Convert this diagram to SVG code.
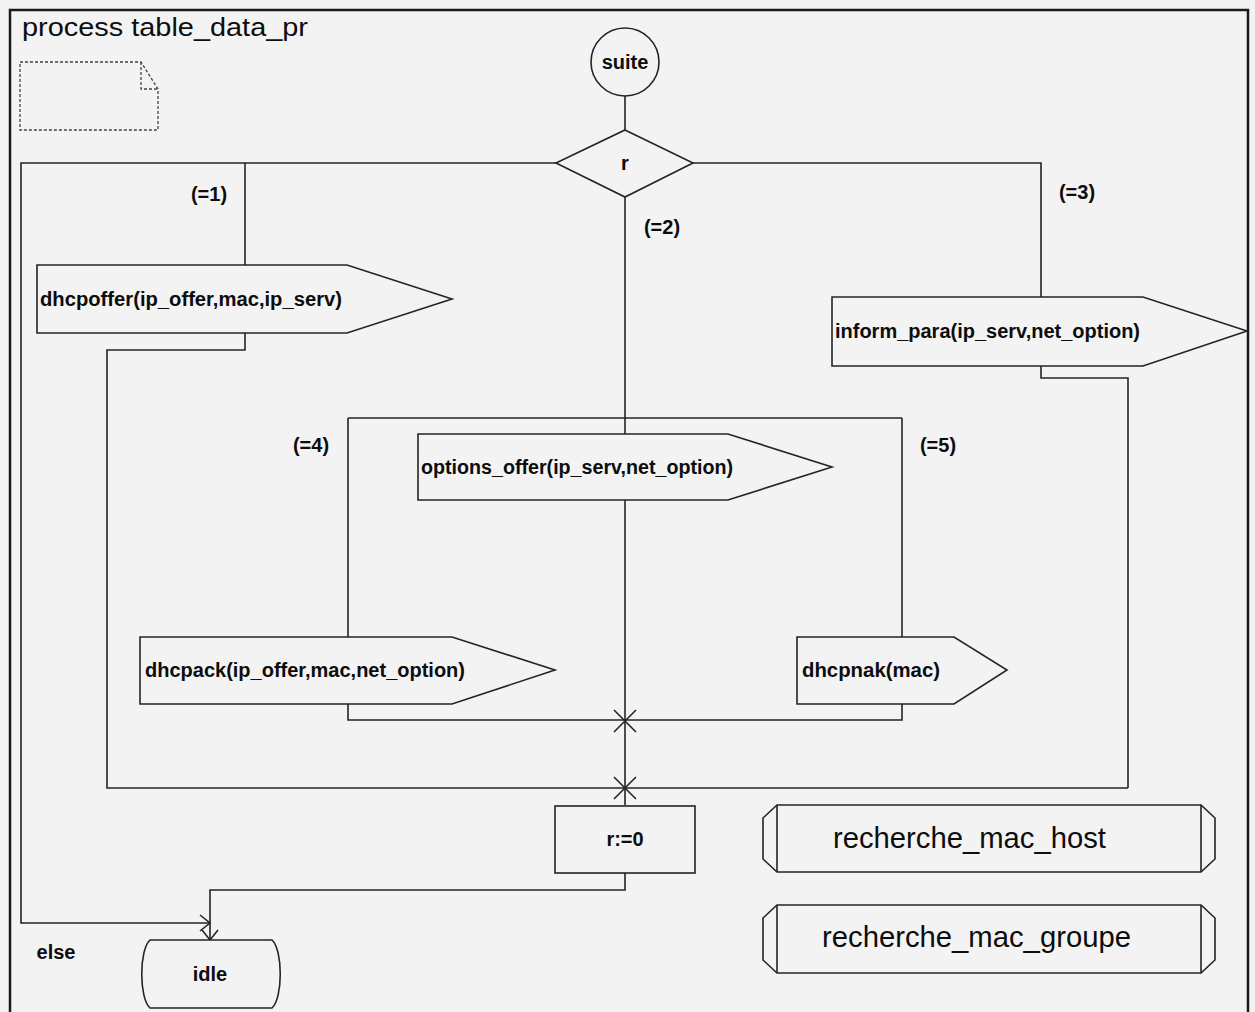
<svg xmlns="http://www.w3.org/2000/svg" width="1255" height="1012" viewBox="0 0 1255 1012">
  <style>
    .ln { fill: none; stroke: #242427; stroke-width: 1.6; }
    .sym { fill: #f3f3f4; stroke: #242427; stroke-width: 1.6; }
    .t { font-family: "Liberation Sans", Arial, sans-serif; fill: #0d0d0d; }
    .b { font-weight: bold; font-size: 20px; }
    .big { font-size: 29px; }
    .note { fill: none; stroke: #444; stroke-width: 1.3; stroke-dasharray: 3 2; }
  </style>

  <!-- page background and process frame -->
  <rect x="0" y="0" width="1255" height="1012" fill="#f3f3f4"/>
  <path d="M10,1014 V10 H1248 V1014" fill="none" stroke="#1a1a1a" stroke-width="2.5"/>
  <text class="t" x="22" y="36" font-size="26" textLength="286" lengthAdjust="spacingAndGlyphs">process table_data_pr</text>

  <!-- empty text symbol -->
  <g id="note">
    <path class="note" d="M20,62 H141 L158,89 V130 H20 Z"/>
    <path class="note" d="M141,62 V89 H158"/>
  </g>

  <!-- flow lines -->
  <g id="connectors">
    <!-- start to decision -->
    <path class="ln" d="M625,96 V130"/>
    <!-- else branch -->
    <path class="ln" d="M556,163 H21 V923 H209"/>
    <!-- (=1) branch -->
    <path class="ln" d="M245,163 V265"/>
    <path class="ln" d="M245,333 V350 H107 V788 H1128"/>
    <!-- (=3) branch -->
    <path class="ln" d="M693,163 H1041 V297"/>
    <path class="ln" d="M1041,366 V378 H1128 V788"/>
    <!-- (=2), (=4), (=5) branches -->
    <path class="ln" d="M625,197 V805"/>
    <path class="ln" d="M348,418 H902"/>
    <path class="ln" d="M348,418 V637"/>
    <path class="ln" d="M348,704 V720 H902 V704"/>
    <path class="ln" d="M902,418 V637"/>
    <!-- junction marks -->
    <path class="ln" d="M614,710 L636,732 M636,710 L614,732"/>
    <path class="ln" d="M614,777 L636,799 M636,777 L614,799"/>
    <!-- to next state -->
    <path class="ln" d="M625,873 V890 H210 V940"/>
    <!-- arrowheads -->
    <path class="ln" d="M200,915 L210,923 L200,931"/>
    <path class="ln" d="M202,930 L210,940 L218,930"/>
  </g>

  <!-- start -->
  <g id="suite">
    <circle class="sym" cx="625" cy="62" r="34"/>
    <text class="t b" x="625" y="69" text-anchor="middle" font-size="18">suite</text>
  </g>

  <!-- decision -->
  <g id="decision_r">
    <polygon class="sym" points="625,130 693,163 625,197 556,163"/>
    <text class="t b" x="625" y="170" text-anchor="middle">r</text>
  </g>

  <!-- answer labels -->
  <g id="answers">
    <text class="t b" x="209" y="201" text-anchor="middle">(=1)</text>
    <text class="t b" x="662" y="234" text-anchor="middle">(=2)</text>
    <text class="t b" x="1077" y="199" text-anchor="middle">(=3)</text>
    <text class="t b" x="311" y="452" text-anchor="middle">(=4)</text>
    <text class="t b" x="938" y="452" text-anchor="middle">(=5)</text>
    <text class="t b" x="56" y="959" text-anchor="middle">else</text>
  </g>

  <!-- output signals -->
  <g id="dhcpoffer">
    <polygon class="sym" points="37,265 347,265 452,299 347,333 37,333"/>
    <text class="t b" x="40" y="306" textLength="302" lengthAdjust="spacingAndGlyphs">dhcpoffer(ip_offer,mac,ip_serv)</text>
  </g>
  <g id="inform_para">
    <polygon class="sym" points="832,297 1143,297 1247,331 1143,366 832,366"/>
    <text class="t b" x="835" y="338" textLength="305" lengthAdjust="spacingAndGlyphs">inform_para(ip_serv,net_option)</text>
  </g>
  <g id="options_offer">
    <polygon class="sym" points="418,434 728,434 832,467 728,500 418,500"/>
    <text class="t b" x="421" y="474" textLength="312" lengthAdjust="spacingAndGlyphs">options_offer(ip_serv,net_option)</text>
  </g>
  <g id="dhcpack">
    <polygon class="sym" points="140,637 452,637 555,670 452,704 140,704"/>
    <text class="t b" x="145" y="677" textLength="320" lengthAdjust="spacingAndGlyphs">dhcpack(ip_offer,mac,net_option)</text>
  </g>
  <g id="dhcpnak">
    <polygon class="sym" points="797,637 954,637 1007,670 954,704 797,704"/>
    <text class="t b" x="802" y="677" textLength="138" lengthAdjust="spacingAndGlyphs">dhcpnak(mac)</text>
  </g>

  <!-- task -->
  <g id="reset_r">
    <rect class="sym" x="555" y="806" width="140" height="67"/>
    <text class="t b" x="625" y="846" text-anchor="middle">r:=0</text>
  </g>

  <!-- next state -->
  <g id="idle">
    <path class="sym" d="M150,940 H272 C283,950 283,998 272,1008 H150 C139,998 139,950 150,940 Z"/>
    <text class="t b" x="210" y="981" text-anchor="middle">idle</text>
  </g>

  <!-- procedure references -->
  <g id="recherche_mac_host">
    <path class="sym" d="M777,805 H1201 L1215,818 V859 L1201,872 H777 L763,859 V818 Z"/>
    <path class="ln" d="M777,805 V872 M1201,805 V872"/>
    <text class="t big" x="833" y="848" textLength="273" lengthAdjust="spacingAndGlyphs">recherche_mac_host</text>
  </g>
  <g id="recherche_mac_groupe">
    <path class="sym" d="M777,905 H1201 L1215,918 V960 L1201,973 H777 L763,960 V918 Z"/>
    <path class="ln" d="M777,905 V973 M1201,905 V973"/>
    <text class="t big" x="822" y="947" textLength="309" lengthAdjust="spacingAndGlyphs">recherche_mac_groupe</text>
  </g>
</svg>
